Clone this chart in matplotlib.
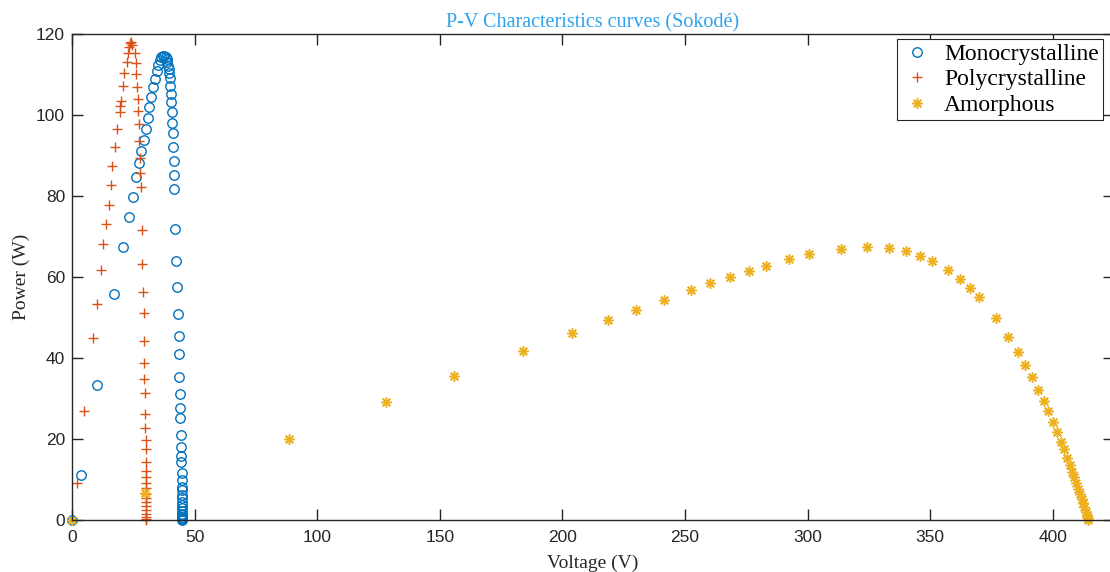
# P-V characteristic curves of three PV technologies (Sokodé)
import matplotlib
matplotlib.use("Agg")
import matplotlib.pyplot as plt

# ---- data ----
mono_v = [0, 3.5, 10.4, 17.3, 21.0, 23.3, 24.7, 26.2, 27.4, 28.2, 29.2, 30.0,
          30.8, 31.6, 32.4, 33.2, 33.9, 34.6, 35.2, 35.8, 36.4, 37.1, 37.7,
          38.2, 38.6, 38.9, 39.2, 39.5, 39.7, 39.9, 40.1, 40.3, 40.5, 40.7,
          40.9, 41.0, 41.3, 41.4, 41.6, 41.7, 42.2, 42.5, 42.9, 43.2, 43.5,
          43.6, 43.7, 43.9, 44.0, 44.2, 44.3, 44.4, 44.5, 44.6, 44.7, 44.7,
          44.8, 44.8, 44.8, 44.9, 44.9, 44.9, 44.9, 45.0, 45.0, 45.0, 45.0,
          45.0, 45.0, 45.0]
mono_p = [0, 11.1, 33.3, 55.7, 67.5, 74.9, 79.8, 84.7, 88.2, 91.0, 93.8, 96.6,
          99.3, 102.0, 104.5, 106.8, 108.9, 110.9, 112.4, 113.5, 114.2, 114.6,
          114.6, 114.4, 113.9, 113.2, 112.2, 111.3, 110.3, 109.1, 107.2, 105.2,
          103.3, 100.7, 98.1, 95.6, 92.2, 88.6, 85.1, 81.7, 71.8, 64.0, 57.6,
          50.8, 45.4, 41.0, 35.3, 31.0, 27.7, 25.1, 21.0, 18.1, 15.9, 14.2,
          11.7, 9.9, 8.2, 7.4, 6.2, 5.4, 4.5, 3.7, 2.9, 2.1, 1.6, 1.2, 0.8,
          0.4, 0.2, 0]

poly_v = [0, 1.9, 5.0, 8.6, 10.2, 11.7, 12.8, 14.0, 14.9, 15.8, 16.5, 17.6,
          18.5, 19.4, 19.6, 19.8, 20.6, 21.3, 22.4, 23.0, 23.4, 23.7, 24.1,
          24.6, 25.8, 26.2, 26.3, 26.6, 26.9, 27.0, 27.3, 27.5, 27.7, 27.9,
          28.2, 28.5, 28.7, 28.9, 29.2, 29.3, 29.3, 29.4, 29.6, 29.7, 29.8,
          30.0, 30.0, 30.1, 30.1, 30.2, 30.2, 30.2, 30.2, 30.3, 30.3, 30.3,
          30.3, 30.3, 30.3, 30.3, 30.3]
poly_p = [0, 9.1, 26.9, 44.9, 53.3, 61.7, 68.2, 73.1, 77.9, 82.6, 87.3, 92.0,
          96.5, 100.8, 102.2, 103.5, 107.2, 110.4, 113.2, 115.4, 116.8, 117.9,
          118.1, 117.3, 115.4, 112.9, 110.1, 107.0, 103.9, 100.9, 97.7, 93.7,
          89.3, 85.6, 82.2, 71.5, 63.1, 56.4, 51.0, 44.1, 38.8, 34.7, 31.3,
          26.2, 22.6, 19.8, 17.6, 14.4, 12.2, 10.7, 9.1, 7.8, 6.5, 5.5, 4.5,
          3.5, 2.5, 1.5, 0.8, 0.3, 0]

amor_v = [0, 29.6, 88.5, 128, 156, 184, 204, 218.6, 230.0, 241.3, 252.4, 260.4,
          268.3, 276.0, 283.2, 292.5, 300.8, 313.7, 324.3, 333.1, 340.1, 346.0,
          350.9, 357.2, 362.2, 366.3, 369.9, 376.9, 381.9, 385.9, 388.9, 391.4,
          394.1, 396.3, 398.1, 400.0, 401.6, 403.3, 404.5, 405.8, 406.9, 407.9,
          408.8, 409.7, 410.5, 411.2, 411.8, 412.4, 412.9, 413.4, 413.8, 414.1,
          414.3, 414.5]
amor_p = [0, 6.7, 20.0, 29.1, 35.5, 41.7, 46.2, 49.4, 51.9, 54.3, 56.7, 58.4,
          60.0, 61.5, 62.8, 64.4, 65.6, 66.9, 67.4, 67.1, 66.3, 65.2, 64.0, 61.7,
          59.4, 57.2, 55.1, 49.8, 45.3, 41.5, 38.2, 35.4, 32.1, 29.3, 27.0, 24.1,
          21.7, 19.3, 17.5, 15.3, 13.7, 11.9, 10.5, 9.1, 7.7, 6.4, 5.2, 4.1, 3.1,
          2.0, 1.2, 0.8, 0.4, 0]

x_ticks = [0, 50, 100, 150, 200, 250, 300, 350, 400]
y_ticks = [0, 20, 40, 60, 80, 100, 120]

# ---- figure ----
W, H = 1110, 572
fig = plt.figure(figsize=(W / 100, H / 100), dpi=100)
ax = fig.add_axes([72 / W, 1 - 520 / H, (1114 - 72) / W, 486 / H])

ax.plot(mono_v, mono_p, linestyle="none", marker="o", markersize=6.8,
        markerfacecolor="none", markeredgecolor="#0072BD", markeredgewidth=1.0,
        label="Monocrystalline", clip_on=False)
ax.plot(poly_v, poly_p, linestyle="none", marker="+", markersize=7,
        color="#D95319", markeredgewidth=1.0, label="Polycrystalline",
        clip_on=False)
ax.plot(amor_v, amor_p, linestyle="none", marker=(8, 2, 0), markersize=7.5,
        color="#EDB120", markeredgewidth=1.1, label="Amorphous", clip_on=False)

ax.set_xlim(0, 425)
ax.set_ylim(0, 120)
ax.set_xticks(x_ticks)
ax.set_yticks(y_ticks)

axis_col = "#262626"
for s in ax.spines.values():
    s.set_color(axis_col)
    s.set_linewidth(1.0)
ax.tick_params(direction="in", length=8, width=1.0, color=axis_col,
               labelcolor=axis_col, top=True, right=True, labelsize=12.5)
ax.tick_params(axis="x", pad=7)
ax.tick_params(axis="y", pad=5)
for lab in ax.get_xticklabels() + ax.get_yticklabels():
    lab.set_family("Liberation Sans")

serif = "Liberation Serif"
ax.set_title("P-V Characteristics curves (Sokodé)", family=serif, fontsize=14.5,
             color="#2EA3EE", pad=5)
ax.set_xlabel("Voltage (V)", family=serif, fontsize=14, color=axis_col, labelpad=7)
ax.set_ylabel("Power (W)", family=serif, fontsize=14, color=axis_col, labelpad=4)

leg = ax.legend(loc="upper right", bbox_to_anchor=(1103 / W, 1 - 39 / H),
                bbox_transform=fig.transFigure, borderaxespad=0,
                prop={"family": serif, "size": 17}, labelspacing=0.17,
                handlelength=1.3, handletextpad=0.5, borderpad=0.18,
                fancybox=False, framealpha=1, edgecolor=axis_col)
leg.get_frame().set_linewidth(0.8)

fig.savefig("out.png", dpi=100)
